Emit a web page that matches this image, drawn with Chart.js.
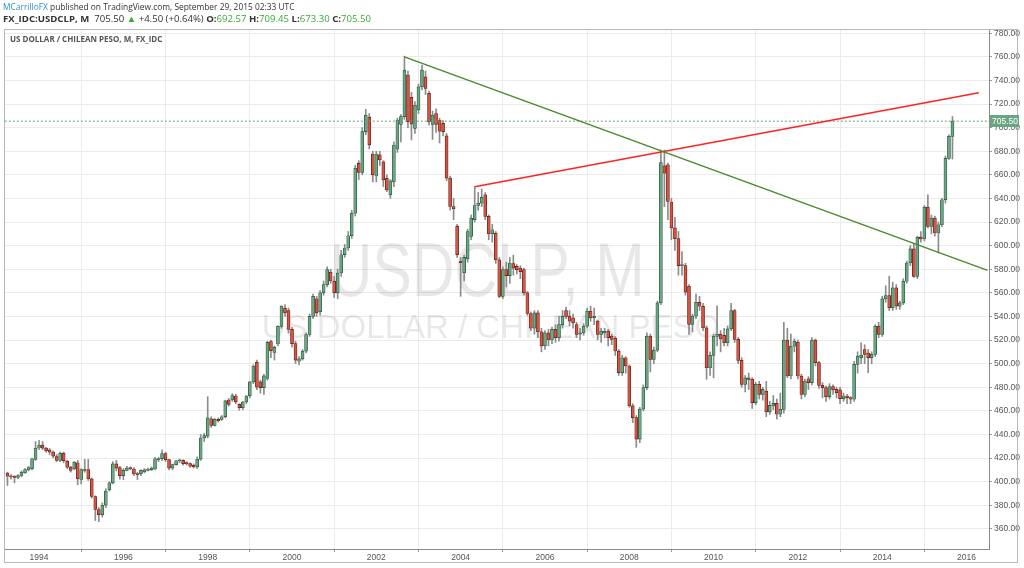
<!DOCTYPE html>
<html>
<head>
<meta charset="utf-8">
<title>USDCLP, M</title>
<script src="https://cdn.jsdelivr.net/npm/chart.js@4.4.0/dist/chart.umd.min.js"></script>
<style>
  html, body { margin: 0; padding: 0; background: #fff; }
  #wrap { position: relative; width: 1024px; height: 568px; overflow: hidden; }
  #chart { position: absolute; left: 0; top: 0; }
  .hdr { position: absolute; left: 3px; font-family: 'Open Sans', sans-serif; color: #333; white-space: nowrap; }
  .blue { color: #2f8fd0; }
  .grn { color: #3aaa35; }
  .b { font-weight: bold; }
</style>
</head>
<body>
<div id="wrap">
  <canvas id="chart" width="1024" height="568"></canvas>
  <div class="hdr" style="top:1px;font-size:8.4px"><span class="blue">MCarrilloFX</span> published on TradingView.com, September 29, 2015 02:33 UTC</div>
  <div class="hdr" style="top:12px;font-size:9.6px"><span class="b">FX_IDC:USDCLP, M</span>&nbsp; 705.50 <span class="grn">&#9650;</span> +4.50 (+0.64%) <span class="b">O:</span><span class="grn">692.57</span> <span class="b">H:</span><span class="grn">709.45</span> <span class="b">L:</span><span class="grn">673.30</span> <span class="b">C:</span><span class="grn">705.50</span></div>
</div>
<script>
// USD/CLP monthly candles, Apr 1993 .. Sep 2015 (month index 0 = Jan 1994)
const firstMonth = -9;

const opens = [
  407.2, 404.6, 404.5, 403.5, 405.2, 407.5, 410, 411, 418.8,                   // 1993 Apr-Dec
  428.5, 431, 428.4, 427, 425, 421.3, 417.9, 424.2, 417.4, 412.3, 410.9, 416,  // 1994
  401.8, 410.3, 410.3, 402.4, 387.4, 376.4, 372, 380, 393, 399, 415, 412,      // 1995
  405, 409.6, 411.5, 410.7, 406.8, 406.8, 408.3, 409.6, 410.2, 410.7, 418.6, 419.4, // 1996
  423.7, 418.6, 411.5, 414.4, 417.7, 418, 415.8, 415.2, 414, 412.4, 419, 437,  // 1997
  438.6, 453.3, 447.7, 452.8, 452.8, 455, 469.2, 469.2, 472.6, 465.5, 462.7, 467.5, // 1998
  472.6, 484.5, 501, 484.5, 479.7, 487.4, 518.6, 509.5, 516.6, 531.6, 547, 545, // 1999
  529, 517, 502, 504, 510.6, 524.7, 540, 555, 544, 560, 567, 577.6,            // 2000
  570, 560, 576.8, 592.3, 598, 608.4, 627.6, 669.8, 662, 696.6, 709, 677.7,    // 2001
  659, 676.9, 671, 657, 643, 654, 681.7, 702.7, 709.3, 744.5, 725.6, 699.4,    // 2002
  715, 734.6, 743, 729, 702.7, 712, 706, 703.6, 693, 657.2, 633.2, 616.3,      // 2003
  587, 577, 588.7, 607.8, 622, 634, 636, 643, 624.8, 610, 610.7, 588,          // 2004
  557, 579.7, 574.6, 584.7, 582.5, 581, 579.7, 560, 542.5, 530, 543, 527,      // 2005
  515, 526, 520, 529, 522, 533, 545, 540.3, 538.8, 533.2, 525, 526,            // 2006
  531.8, 544.5, 539, 536, 524.8, 526, 527.6, 523.4, 521.7, 510.7, 492.4, 505,  // 2007
  498, 464.2, 454.3, 436, 461.4, 479.7, 523.4, 503.6, 511.5, 551.5, 667.6, 668.5, // 2008
  637, 615, 606, 583, 583, 565.6, 533.2, 540.2, 552, 548.6, 530.4, 496.5,      // 2009
  507, 523, 525, 523.9, 517.7, 529.5, 545, 520.5, 502.7, 482.4, 488, 486.7,    // 2010
  467, 482.4, 474, 476.8, 459.1, 464.2, 466.4, 457.1, 461.3, 520, 489.5, 514.8, // 2011
  518.2, 489.5, 474, 487.2, 483.9, 520, 500.8, 481.6, 479.6, 472, 480.5, 478.2, // 2012
  477.7, 470.3, 472.6, 471.2, 469.8, 499.4, 505, 512, 509, 505, 507.8, 531.8,  // 2013
  524.7, 554.9, 557.7, 547.3, 564.2, 548.7, 551.5, 569.8, 585.3, 597.2, 574, 607.3, // 2014
  605.6, 632.6, 616.3, 623.4, 610.7, 617.7, 638.9, 674, 692.57                 // 2015 Jan-Sep
];
const highs = [
  408, 406, 405, 406, 409, 411, 413, 420, 434,
  435, 434, 429, 428, 426, 423, 425, 425, 418, 413, 417, 418,
  411, 418.8, 418.8, 403, 388, 378, 382, 394, 400, 417, 418, 413,
  411, 413, 412.5, 412, 408, 410, 411, 411.5, 412.5, 420.5, 420.5, 427,
  425, 419, 415, 418, 419, 418.5, 417, 416, 415, 421, 440, 441,
  472, 455, 453.5, 454, 456, 469, 470.5, 474.5, 474, 466, 468, 473,
  485, 499, 503, 486, 491, 519, 520, 515, 532, 549, 550, 547,
  531, 519, 506, 512, 526, 542, 559, 557, 562, 570, 582, 580,
  574, 580, 596, 601, 612, 630, 668, 672, 700, 715.5, 712, 680,
  680, 680, 672, 660, 656, 688, 708, 711, 760.6, 748, 730, 722,
  737, 753, 748, 731, 714, 716, 708, 706, 695, 659, 640, 618,
  590, 592, 614, 626, 650, 645, 648, 645, 626, 618, 612, 590,
  582, 586, 590, 592, 584, 583, 581, 561, 544, 545, 545, 530,
  528, 529, 531, 533, 540, 545, 548, 545, 542, 535, 530, 534,
  547, 548.7, 547, 537, 530, 530, 529, 525, 523, 512, 507, 506,
  499, 466, 456, 463, 482, 526, 525, 514, 553, 681, 681, 670,
  640, 624, 612, 595, 585, 567, 542, 559, 557, 551, 532, 510,
  525, 549, 528, 530, 532, 551, 546, 522, 505, 490, 492, 488,
  484, 485, 480, 485, 468, 473, 470, 475, 535, 530, 525, 521,
  520, 491, 487, 489, 522, 521, 502, 484, 481, 483, 482, 480,
  480, 475, 474, 472, 502, 510, 517.7, 516, 512, 510, 533, 535,
  557, 566, 574, 569, 567, 553, 572, 587, 600, 602, 608, 612,
  634, 643, 626, 625, 620, 640, 676, 694, 709.45
];
const lows = [
  396.7, 402, 399, 402.5, 404, 407, 409, 410, 418,
  427, 427, 425, 423, 420, 417, 417, 416, 411, 408, 410, 397.3,
  398, 408, 401, 386, 367, 366, 370, 378, 392, 398, 409, 402,
  401.7, 409, 410, 405, 401.7, 405, 407.5, 409, 409.5, 410, 417, 418,
  417, 410, 410, 414, 416, 414, 414, 412, 411.5, 411, 418, 434,
  437, 446, 447, 450.5, 452, 454, 464, 468, 466, 460.5, 461, 466,
  471, 483, 478, 475, 474, 486, 505, 503, 515, 530, 540, 526,
  514, 500, 499, 503, 509, 523, 538, 540, 541, 558, 565, 568,
  556, 555, 574, 590, 596, 606, 625, 656, 660, 694, 682, 654,
  654, 668, 650, 645.7, 640, 650, 679, 688, 707, 700, 689.6, 695,
  712, 732, 728, 702, 690, 696, 687, 693, 655, 630, 622, 590,
  557, 570, 586, 605, 620, 630, 633, 622, 605, 603, 585, 556,
  555, 565, 568, 575, 576, 572, 558, 541, 528, 525, 522, 510,
  512, 515, 517, 518, 519, 530, 538, 532, 530, 522, 520, 524,
  530, 536, 533, 520, 518, 522, 515, 516, 507, 490, 490, 492,
  463, 450, 429, 433, 460, 478, 493, 500, 510, 550, 633, 622,
  605, 596, 575, 575, 558, 524.7, 527, 538, 545, 528, 486.7, 490,
  488, 515, 510, 515, 515, 528, 518, 500, 480, 476, 478, 462,
  465, 470, 469, 455, 457, 461, 453, 455, 458, 488, 487, 510,
  487, 470, 472, 478, 482, 498, 479, 471, 468, 470, 474, 471,
  466, 468, 466, 466, 468, 492, 500, 500, 492.3, 500, 506, 522,
  523, 552, 545, 545, 546, 546, 550, 568, 583, 573, 572, 603,
  604, 615, 610, 608, 593.8, 616, 636, 673, 673.3
];
const closes = [
  404.6, 404.0, 403.5, 405.2, 408, 410.3, 412, 419.4, 428.4,
  431, 428.4, 426.1, 425, 421.6, 417.9, 424.2, 417.7, 412.3, 409.4, 416.5, 402.4,
  410.3, 409.4, 402.4, 387.4, 376.4, 372, 380, 392, 399, 415, 411.5, 405,
  409.6, 411.5, 411, 406.5, 406, 409.6, 409.9, 410.7, 411.5, 419.4, 419.4, 423.7,
  418.6, 411.5, 414.4, 417.7, 418, 415.2, 415.2, 413, 412.4, 419, 437, 439,
  454, 447.7, 452.8, 451.7, 455, 468.4, 465.5, 473, 467.5, 462.7, 467.5, 472.6,
  484.5, 498, 480, 479.7, 489.6, 518, 511, 513.8, 531.6, 548.7, 543, 529,
  517, 503, 504, 510.6, 524.7, 540, 557, 543, 560, 567, 579.7, 570,
  560, 576.8, 592.3, 598, 608.4, 627.6, 665.6, 662, 696.6, 710.7, 685.3, 660,
  677.7, 672.6, 655.7, 647.3, 654.9, 685.3, 706.5, 709.3, 748.7, 705, 703, 719,
  734.6, 748.7, 733.2, 705, 710.7, 702.7, 697, 696.6, 657.2, 633.2, 631.2, 592.4,
  585.5, 590, 612, 623.3, 634, 636, 641, 624.8, 610, 613.5, 588, 557,
  579.7, 574.6, 585.3, 581, 579.7, 578, 560, 542.5, 530, 543, 527, 515,
  526, 520, 529, 522, 533, 540, 540, 536, 534.6, 524.8, 526, 531.8,
  544.5, 538.8, 540, 524.8, 527.6, 527.6, 522, 520.5, 510.7, 492.4, 505, 498,
  464.2, 454.3, 436, 461.4, 479.7, 523.4, 503.6, 511.5, 551.5, 670.4, 661.4, 637.5,
  615, 606, 583, 583, 560.5, 533.2, 540.2, 552, 548.6, 530.4, 496.5, 507,
  523.3, 525, 521, 517.7, 529.5, 545, 520.5, 502.7, 482.4, 488, 486.7, 467,
  482.4, 474, 478.2, 459.1, 464.7, 466.4, 457.1, 461.3, 520, 489.5, 514.8, 519.1,
  489.5, 474, 485.3, 483.9, 520, 500.8, 481.6, 479.6, 472, 480.5, 477.7, 475.4,
  470.3, 472.6, 471.2, 469.8, 499.4, 506.4, 507, 507.8, 505, 507.8, 531.8, 524.7,
  554.9, 557.7, 547.3, 564.2, 548.7, 551.5, 569.8, 585.3, 597.2, 574, 607.3, 605.6,
  632.6, 616.3, 623.4, 610.7, 617.7, 638.9, 674, 692.57, 705.5
];

// axis ticks
const xTickMonths = [0, 24, 48, 72, 96, 120, 144, 168, 192, 216, 240, 264];
const xTickLabels = ['1994', '1996', '1998', '2000', '2002', '2004', '2006', '2008', '2010', '2012', '2014', '2016'];
const yTicks = [360, 380, 400, 420, 440, 460, 480, 500, 520, 540, 560, 580, 600, 620, 640, 660, 680, 700, 720, 740, 760, 780];

// drawings on the chart (month index, price)
const greenTrend = [{ x: 104, y: 760 }, { x: 270, y: 579 }];
const redTrend = [{ x: 124, y: 650 }, { x: 267.5, y: 729.5 }];
const lastPrice = 705.50;

const UP = '#6ba583', DOWN = '#d75442', UP_BORDER = '#225437', DOWN_BORDER = '#5b1a13';

const bodies = closes.map((c, i) => ({ x: firstMonth + i, y: [opens[i], c] }));
const wicks = closes.map((c, i) => ({ x: firstMonth + i, y: [lows[i], highs[i]] }));
const isUp = closes.map((c, i) => c >= opens[i]);

const watermark = {
  id: 'watermark',
  beforeDatasetsDraw(chart) {
    const { ctx, chartArea } = chart;
    const cx = (chartArea.left + chartArea.right) / 2 - 10;
    ctx.save();
    ctx.fillStyle = 'rgba(0,0,0,0.09)';
    ctx.textAlign = 'center';
    ctx.textBaseline = 'alphabetic';
    // big symbol text, slightly condensed like the original
    ctx.save();
    ctx.translate(cx, 296);
    ctx.scale(0.78, 1);
    ctx.font = '76px "Liberation Sans", sans-serif';
    ctx.fillText('USDCLP, M', 0, 0);
    ctx.restore();
    ctx.font = '33px "Liberation Sans", sans-serif';
    ctx.fillText('US DOLLAR / CHILEAN PESO', cx + 4, 338);
    ctx.restore();
  }
};

const decor = {
  id: 'decor',
  afterDraw(chart) {
    const { ctx, chartArea, scales } = chart;
    ctx.save();
    // series title
    ctx.font = 'bold 8px "Open Sans", sans-serif';
    ctx.fillStyle = '#555';
    ctx.textBaseline = 'middle';
    ctx.fillText('US DOLLAR / CHILEAN PESO, M, FX_IDC', 10, 40);
    // outer frame
    ctx.strokeStyle = '#b8b8b8';
    ctx.lineWidth = 1;
    ctx.strokeRect(4.5, 29.5, 1013, 533);
    // last price label
    const py = Math.round(scales.y.getPixelForValue(lastPrice));
    ctx.fillStyle = UP;
    ctx.fillRect(chartArea.right + 1, py - 6, 29, 12);
    ctx.fillStyle = '#fff';
    ctx.font = '8.5px "Liberation Sans", sans-serif';
    ctx.textAlign = 'left';
    ctx.fillText(lastPrice.toFixed(2), chartArea.right + 3, py + 0.5);
    ctx.restore();
  }
};

new Chart(document.getElementById('chart'), {
  type: 'bar',
  data: {
    datasets: [
      { type: 'line', data: greenTrend, borderColor: '#4b8a2c', borderWidth: 1.5, pointRadius: 0, order: 0 },
      { type: 'line', data: redTrend, borderColor: '#ff2323', borderWidth: 1.5, pointRadius: 0, order: 0 },
      { type: 'line', data: [{ x: -20, y: lastPrice }, { x: 300, y: lastPrice }], borderColor: '#5fa57a', borderWidth: 1, borderDash: [2, 2], pointRadius: 0, order: 0 },
      { data: bodies, grouped: false, barThickness: 3, minBarLength: 1, borderWidth: 0.7, borderSkipped: false,
        backgroundColor: isUp.map(u => u ? UP : DOWN), borderColor: isUp.map(u => u ? UP_BORDER : DOWN_BORDER), order: 1 },
      { data: wicks, grouped: false, barThickness: 1, backgroundColor: '#8c8c8e', order: 2 }
    ]
  },
  options: {
    responsive: false,
    animation: false,
    devicePixelRatio: 1,
    layout: { padding: { left: 5, top: 29, right: 0, bottom: 0 } },
    plugins: { legend: { display: false }, tooltip: { enabled: false } },
    scales: {
      x: {
        type: 'linear', min: -9.7, max: 270.4, offset: false,
        afterBuildTicks: s => { s.ticks = xTickMonths.map(v => ({ value: v })); },
        afterFit: s => { s.height = 19; },
        ticks: { autoSkip: false, maxRotation: 0, padding: 1, color: '#555', font: { family: 'Liberation Sans', size: 8.5 },
          callback: (v, i) => xTickLabels[i] },
        grid: { color: '#ebebeb', tickLength: 3, tickColor: '#999' },
        border: { color: '#8a8a8a' }
      },
      y: {
        position: 'right', min: 342.9, max: 783.6,
        afterBuildTicks: s => { s.ticks = yTicks.map(v => ({ value: v })); },
        afterFit: s => { s.width = 35; },
        ticks: { padding: 2, color: '#555', font: { family: 'Liberation Sans', size: 8.5 },
          callback: v => v.toFixed(2) },
        grid: { color: '#ebebeb', tickLength: 3, tickColor: '#999' },
        border: { color: '#8a8a8a' }
      }
    }
  },
  plugins: [watermark, decor]
});
</script>
</body>
</html>
